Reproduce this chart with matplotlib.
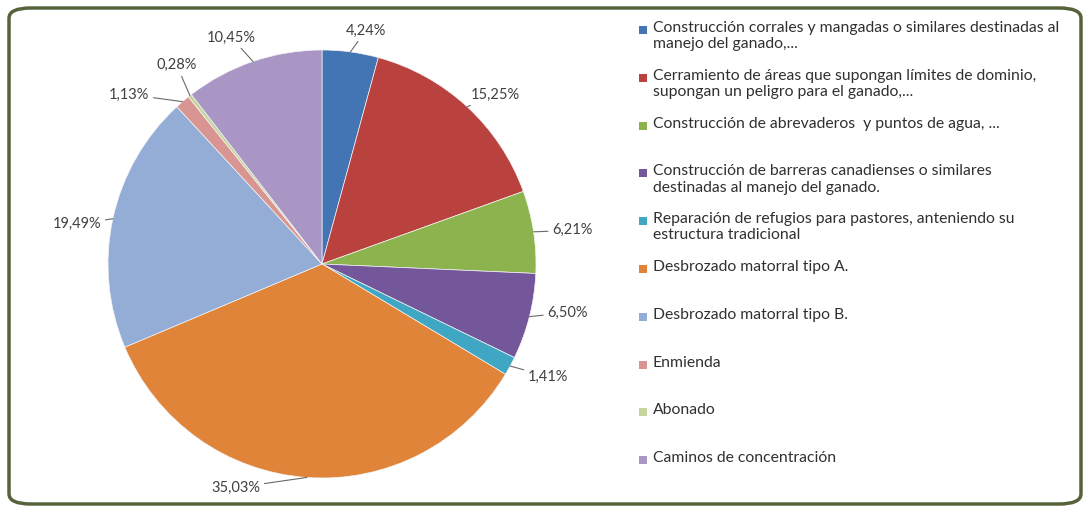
import numpy as np
import matplotlib
matplotlib.use("Agg")
import matplotlib.pyplot as plt
from matplotlib.patches import FancyBboxPatch, Rectangle

# data
categories = [
    "Construcción corrales y mangadas o similares destinadas al\nmanejo del ganado,...",
    "Cerramiento de áreas que supongan límites de dominio,\nsupongan un peligro para el ganado,...",
    "Construcción de abrevaderos  y puntos de agua, ...",
    "Construcción de barreras canadienses o similares\ndestinadas al manejo del ganado.",
    "Reparación de refugios para pastores, anteniendo su\nestructura tradicional",
    "Desbrozado matorral tipo A.",
    "Desbrozado matorral tipo B.",
    "Enmienda",
    "Abonado",
    "Caminos de concentración",
]
values = [4.24, 15.25, 6.21, 6.50, 1.41, 35.03, 19.49, 1.13, 0.28, 10.45]
labels = ["4,24%", "15,25%", "6,21%", "6,50%", "1,41%",
          "35,03%", "19,49%", "1,13%", "0,28%", "10,45%"]

colors = ["#4374B3", "#B9413E", "#8DB34F", "#74579A", "#3FA6C4",
          "#E0843A", "#93ADD6", "#D99592", "#C4D69E", "#A996C4"]

# label layout (angle nudges in degrees, radius as fraction of pie radius)
label_shift = [3, 3, 1, -3, -2, 17, -3, -8, 2, -3]
label_rad = [1.11, 1.13, 1.18, 1.17, 1.18, 1.12, 1.16, 1.20, 1.15, 1.14]

plt.rcParams['font.family'] = ['Lato', 'DejaVu Sans']

W, H = 1089, 512
fig = plt.figure(figsize=(W / 100, H / 100), dpi=100)
fig.patch.set_facecolor("white")

# rounded frame
frame = FancyBboxPatch((9 / W, 8 / H), (W - 17) / W, (H - 16) / H,
                       boxstyle="round,pad=0,rounding_size=0.02",
                       transform=fig.transFigure, facecolor="none",
                       edgecolor="#56633A", linewidth=2.5, zorder=-1)
fig.patches.append(frame)

cx, cy, r = 322, 264, 214
ax = fig.add_axes([(cx - r) / W, (H - cy - r) / H, 2 * r / W, 2 * r / H])
wedges, _ = ax.pie(values, colors=colors, startangle=90, counterclock=False,
                   wedgeprops=dict(linewidth=0.5, edgecolor="#F4F4F4"))
ax.set_xlim(-1, 1)
ax.set_ylim(-1, 1)
ax.set_aspect("equal")
ax.axis("off")

# percentage labels with leader lines
for w, lab, sh, rad in zip(wedges, labels, label_shift, label_rad):
    mid = np.deg2rad((w.theta1 + w.theta2) / 2)
    tx = np.deg2rad((w.theta1 + w.theta2) / 2 - sh)
    ax.annotate(lab, xy=(np.cos(mid), np.sin(mid)),
                xytext=(rad * np.cos(tx), rad * np.sin(tx)),
                ha="center", va="center", fontsize=10.5, color="#404040",
                arrowprops=dict(arrowstyle="-", color="#6A6A6A", lw=0.8,
                                shrinkA=1, shrinkB=0),
                annotation_clip=False)

# legend drawn by hand so entries are evenly spaced
for i, (cat, col) in enumerate(zip(categories, colors)):
    y = 30 + i * 47.8
    fig.patches.append(Rectangle(((643 - 4) / W, (H - y - 4) / H), 8 / W, 8 / H,
                                 transform=fig.transFigure, facecolor=col,
                                 edgecolor="none"))
    fig.text(653 / W, (H - y + 9) / H, cat, ha="left", va="top",
             fontsize=11.3, color="#303030", linespacing=1.2)

fig.savefig("out.png", dpi=100, facecolor="white")
